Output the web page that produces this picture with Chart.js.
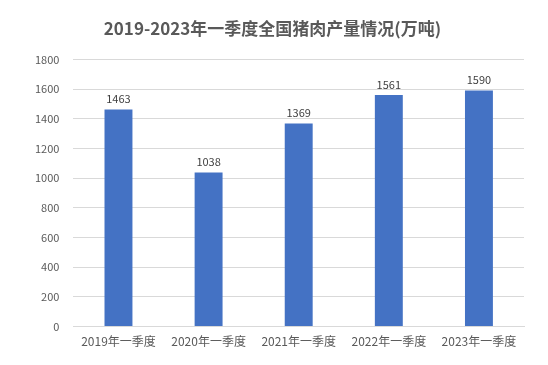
<!DOCTYPE html>
<html lang="zh">
<head>
  <meta charset="UTF-8">
  <title>2019-2023年一季度全国猪肉产量情况</title>
  <script src="https://cdn.jsdelivr.net/npm/chart.js"></script>
  <style>
    html, body { margin: 0; padding: 0; background: #fff; }
    .chart-container { width: 548px; height: 365px; }
  </style>
</head>
<body>
  <div class="chart-container">
    <canvas id="porkChart"></canvas>
  </div>
  <script>
    // 数据
    const categories = ['2019年一季度', '2020年一季度', '2021年一季度', '2022年一季度', '2023年一季度'];
    const output = [1463, 1038, 1369, 1561, 1590];
    const yTicks = [0, 200, 400, 600, 800, 1000, 1200, 1400, 1600, 1800];

    const fontFamily = '"Noto Sans CJK SC", "Noto Sans", sans-serif';

    // 柱顶数值标签
    const valueLabels = {
      id: 'valueLabels',
      afterDatasetsDraw(chart) {
        const ctx = chart.ctx;
        const meta = chart.getDatasetMeta(0);
        ctx.save();
        ctx.fillStyle = '#404040';
        ctx.font = '11px ' + fontFamily;
        ctx.textAlign = 'center';
        ctx.textBaseline = 'bottom';
        meta.data.forEach((bar, i) => {
          ctx.fillText(chart.data.datasets[0].data[i], bar.x, bar.y - 5);
        });
        ctx.restore();
      }
    };

    const ctx = document.getElementById('porkChart').getContext('2d');
    new Chart(ctx, {
      type: 'bar',
      data: {
        labels: categories,
        datasets: [{
          label: '猪肉产量',
          data: output,
          backgroundColor: '#4472C4',
          barPercentage: 0.31,
          categoryPercentage: 1
        }]
      },
      options: {
        responsive: true,
        maintainAspectRatio: false,
        animation: false,
        layout: { padding: { left: 21, right: 24, top: 6, bottom: 8 } },
        plugins: {
          legend: { display: false },
          tooltip: { enabled: false },
          title: {
            display: true,
            text: '2019-2023年一季度全国猪肉产量情况(万吨)',
            color: '#595959',
            font: { family: fontFamily, size: 17, weight: 'bold' },
            padding: { top: 12, bottom: 21 }
          }
        },
        scales: {
          x: {
            grid: { display: false, drawTicks: false },
            border: { color: '#d9d9d9' },
            ticks: {
              color: '#595959',
              font: { family: fontFamily, size: 12 },
              padding: 8,
              maxRotation: 0
            }
          },
          y: {
            min: 0,
            max: 1800,
            afterBuildTicks(axis) {
              axis.ticks = yTicks.map(v => ({ value: v }));
            },
            grid: { color: '#d9d9d9', drawTicks: false },
            border: { display: false },
            ticks: {
              color: '#595959',
              font: { family: fontFamily, size: 11 },
              padding: 14,
              callback: v => String(v)
            }
          }
        }
      },
      plugins: [valueLabels]
    });
  </script>
</body>
</html>
